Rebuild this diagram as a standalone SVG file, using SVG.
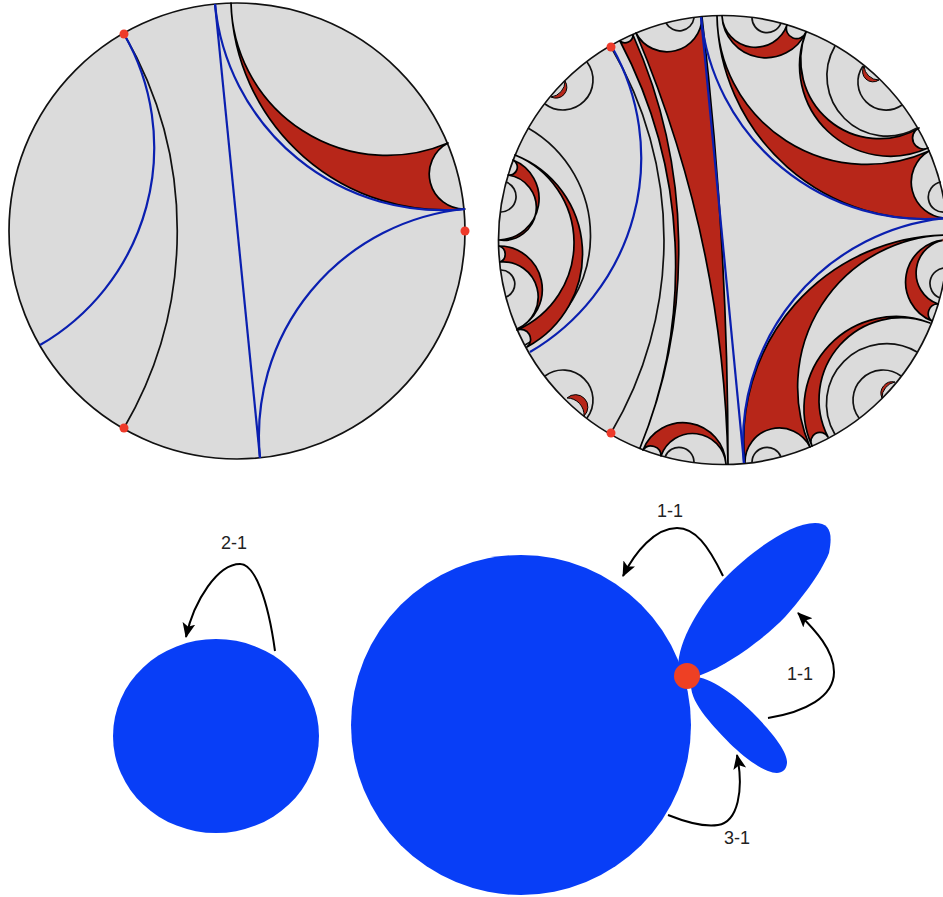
<svg xmlns="http://www.w3.org/2000/svg" width="943" height="897" viewBox="0 0 943 897">
<defs>
<marker id="ah" markerUnits="userSpaceOnUse" markerWidth="16" markerHeight="14" refX="14" refY="6.5" orient="auto">
<path d="M0,0 L15,6.5 L0,13 L3.5,6.5 Z" fill="#000"/>
</marker>
</defs>
<style>
.disc{fill:#dbdbdb;stroke:#111;stroke-width:1.7}
.r{fill:#b72619;stroke:#000;stroke-width:1.7;stroke-linejoin:round}
.s{fill:#b72619;stroke:#000;stroke-width:1;stroke-linejoin:round}
.k{fill:none;stroke:#111;stroke-width:1.7}
.b{fill:none;stroke:#0a1fb0;stroke-width:2.2}
.dot{fill:#ee3a2a}
.blob{fill:#083ef7}
.arr{fill:none;stroke:#000;stroke-width:2;marker-end:url(#ah)}
text{font-family:"Liberation Sans",Arial,sans-serif;font-size:18px;fill:#222;text-anchor:middle}
</style>

<g id="disc-left">
<circle class="disc" cx="237" cy="231" r="228"/>
<path class="r" d="M231,3 A156,156 0 0 0 448,143 A35,35 0 0 0 465,209 A214,214 0 0 1 231,3 Z"/>
<path class="k" d="M124,428 A391,391 0 0 0 124,34"/>
<path class="b" d="M40,345 A228,228 0 0 0 124,34"/>
<path class="b" d="M215,4 L260,458"/>
<path class="b" d="M215,4 A228,228 0 0 0 465,209"/>
<path class="b" d="M465,209 A228,228 0 0 0 260,458"/>
<circle class="dot" cx="124" cy="34" r="4.5"/>
<circle class="dot" cx="124" cy="428" r="4.5"/>
<circle class="dot" cx="465" cy="231" r="4.5"/>
</g>

<g id="disc-right">
<circle class="disc" cx="723" cy="240" r="224.5"/>
<path class="r" d="M620,41 A8,8 0 0 0 633,35 A527,527 0 0 1 640,448 A483,483 0 0 0 620,41 Z"/>
<path class="r" d="M636,33 A35,35 0 0 0 702,17 A3840,3840 0 0 1 728,464 A1165,1165 0 0 0 636,33 Z"/>
<path class="k" d="M666,23 A15,15 0 0 0 694,18"/>
<path class="r" d="M717,16 A150,150 0 0 0 929,151 A36,36 0 0 0 946,218 A208,208 0 0 1 717,16 Z"/>
<path class="k" d="M941,182 A15,15 0 0 0 946,212"/>
<path class="r" d="M806,32 A78.6,78.6 0 0 0 919,128 A10.5,10.5 0 0 0 928,148 A90.7,90.7 0 0 1 806,32 Z"/>
<path class="k" d="M835,46 A60,60 0 0 0 917,128"/>
<path class="k" d="M863,66 A28,28 0 0 0 902,105"/>
<path class="s" d="M864,66 A10.5,10.5 0 0 0 879,80 A15,15 0 0 1 864,66 Z"/>
<path class="r" d="M722,16 A33.5,33.5 0 0 0 787,25 A10,10 0 0 0 806,32 A44,44 0 0 1 722,16 Z"/>
<path class="k" d="M752,17 A15,15 0 0 0 781,23"/>
<path class="r" d="M726,464 A33.5,33.5 0 0 0 661,456 A10,10 0 0 0 643,450 A43,43 0 0 1 726,464 Z"/>
<path class="k" d="M694,462 A15,15 0 0 0 665,457"/>
<path class="k" d="M587,418 A30,30 0 0 0 545,376"/>
<path class="s" d="M584,416 A12,12 0 0 0 567,398 A17,17 0 0 1 584,416 Z"/>
<path class="k" d="M545,104 A30,30 0 0 0 587,62"/>
<path class="s" d="M551,97 A11,11 0 0 0 565,81 A16,16 0 0 1 551,97 Z"/>
<path class="k" d="M525,345 A124,124 0 0 0 528,128"/>
<path class="r" d="M527,347 A10,10 0 0 0 517,330 A95,95 0 0 0 515,155 A106,106 0 0 1 527,347 Z"/>
<path class="r" d="M508,175 A8,8 0 0 0 513,160 A41.5,41.5 0 0 1 499,240 A32.5,32.5 0 0 0 508,175 Z"/>
<path class="k" d="M501,212 A15.5,15.5 0 0 0 506,182"/>
<path class="r" d="M500,262 A8.5,8.5 0 0 0 499,246 A43.5,43.5 0 0 1 517,329 A35,35 0 0 0 500,262 Z"/>
<path class="k" d="M506,297 A14,14 0 0 0 501,270"/>
<path class="k" d="M611,433 A378,378 0 0 0 611,47"/>
<path class="r" d="M946,235 A152,152 0 0 0 810,447 A34.3,34.3 0 0 0 745,463 A205,205 0 0 1 946,235 Z"/>
<path class="k" d="M781,457 A15,15 0 0 0 752,462"/>
<path class="r" d="M930,323 A82,82 0 0 0 828,437 A9,9 0 0 0 812,446 A92,92 0 0 1 930,323 Z"/>
<path class="k" d="M917,352 A60,60 0 0 0 835,434.5"/>
<path class="k" d="M901,376 A30,30 0 0 0 859,418"/>
<path class="s" d="M895,382 A11.5,11.5 0 0 0 882,398 A16,16 0 0 1 895,382 Z"/>
<path class="r" d="M947,240 A33,33 0 0 0 938,304 A9.5,9.5 0 0 0 932,321 A42,42 0 0 1 947,240 Z"/>
<path class="k" d="M946,268 A15.5,15.5 0 0 0 940,298"/>
<path class="b" d="M530,352 A225,225 0 0 0 612,47"/>
<path class="b" d="M701,17 L744,463"/>
<path class="b" d="M701,17 A225,225 0 0 0 946,218"/>
<path class="b" d="M946,218 A225,225 0 0 0 744,463"/>
<circle class="dot" cx="611" cy="47" r="4.5"/>
<circle class="dot" cx="611" cy="433" r="4.5"/>
<circle class="dot" cx="947" cy="240" r="4.5"/>
</g>

<g id="blob-left"><ellipse class="blob" cx="216" cy="736" rx="103" ry="97"/></g>
<g id="blob-main"><circle class="blob" cx="521" cy="725" r="170"/></g>
<g id="petal-upper"><path class="blob" d="M678,668 C678,640 700,605 723,580 C750,552 790,523 815,523 C830,523 833,533 829,553 C820,575 800,600 785,617 C765,638 725,668 695,677 Z"/></g>
<g id="petal-lower"><path class="blob" d="M692,676 C712,678 735,695 752,712 C772,732 788,752 787,763 C786,773 778,775 768,771 C745,762 718,732 705,716 C695,703 688,690 692,676 Z"/></g>
<g id="vertex"><circle cx="687" cy="676" r="13" fill="#ee4024"/></g>

<g id="connectors">
<path class="arr" d="M275,651 C268,600 255,564 240,564 C218,564 194,600 186,637"/>
<path class="arr" d="M723,576 C708,545 695,528 677,528 C655,528 635,552 623,576"/>
<path class="arr" d="M768,718 C805,712 834,697 834,672 C834,650 815,630 798,613"/>
<path class="arr" d="M668,815 C688,823 705,827 718,825 C738,822 744,790 737,755"/>
</g>

<g id="labels">
<text x="234" y="549">2-1</text>
<text x="670" y="517">1-1</text>
<text x="800" y="680">1-1</text>
<text x="737" y="844">3-1</text>
</g>
</svg>
